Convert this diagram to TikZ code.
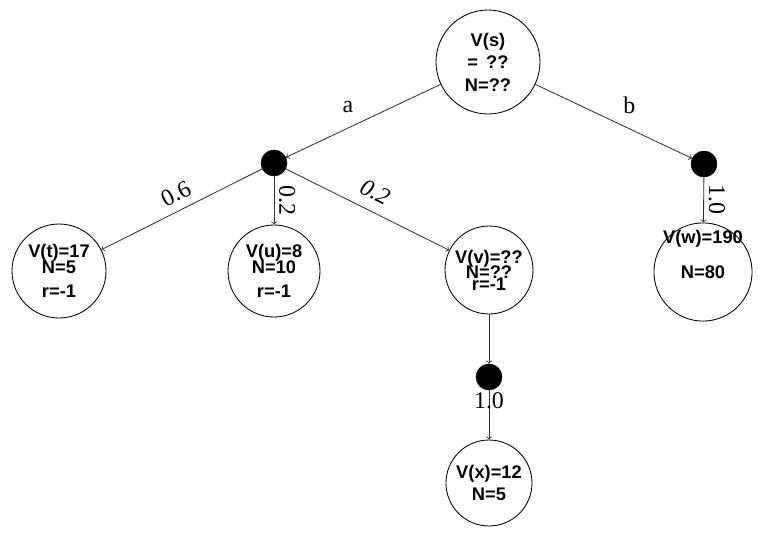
\documentclass[tikz,border=0pt]{standalone}
\usepackage{fontspec}
\setmainfont{Liberation Serif}
\setsansfont{Liberation Sans}
\tikzset{state/.style={circle, draw, line width=0.6pt, align=center, inner sep=0pt, font=\sffamily\bfseries\fontsize{13}{16}\selectfont}}
\tikzset{chance/.style={circle, draw, fill=black, minimum size=0.65cm, inner sep=0pt}}
\tikzset{arr/.style={draw, ->, line width=0.6pt, black!80}}
\tikzset{prob/.style={font=\fontsize{17}{19}\selectfont, text=black}}

\begin{document}
\begin{tikzpicture}
        \useasboundingbox (0,0) rectangle (18.95,-13.525);
        \node[state, minimum size=2.6cm] (S) at (12.2,-1.55){V(s)\\= \,??\\N=??};
        \node[chance] (Qa) at (6.85,-4.075){};
        \node[chance] (Qb) at (17.6,-4.1){};
        \node[state, minimum size=2.35cm] (T) at (1.475,-6.775){V(t)=17\\[-4.6pt]N=5\\[1pt]r=-1};
        \node[state, minimum size=2.3cm] (U) at (6.85,-6.775){V(u)=8\\[-4.6pt]N=10\\[1pt]r=-1};
        \node[state, minimum size=2.2cm] (V) at (12.225,-6.75){V(v)=??\\[-5.3pt]N=??\\[-7.5pt]r=-1};
        \node[chance] (Qv) at (12.225,-9.425){};
        \node[state, minimum size=2.15cm] (X) at (12.225,-12.075){V(x)=12\\N=5};
        \node[state, minimum size=2.3cm] (W) at (17.575,-6.8){\raisebox{11pt}[\height][\depth]{\begin{tabular}{@{}c@{}}V(w)=190\\[9pt]N=80\end{tabular}}};

        \draw[arr] (S) -- node[prob, pos=0.6, above=7pt]{a} (Qa);
        \draw[arr] (S) -- node[prob, pos=0.6, above=7pt]{b} (Qb);
        \draw[arr] (Qa) -- node[prob, pos=0.49, sloped, above=2.5pt]{0.6} (T);
        \draw[arr] (Qa) -- node[prob, midway, rotate=-90, anchor=south]{0.2} (U);
        \draw[arr] (Qa) -- node[prob, pos=0.495, sloped, above=4pt]{\itshape 0.2} (V);
        \draw[arr] (Qb) -- node[prob, midway, rotate=-90, anchor=south]{1.0} (W);
        \draw[arr] (V) -- (Qv);
        \draw[arr] (Qv) -- node[prob, pos=0, below, inner sep=1pt]{1.0} (X);
    \end{tikzpicture}
\end{document}
